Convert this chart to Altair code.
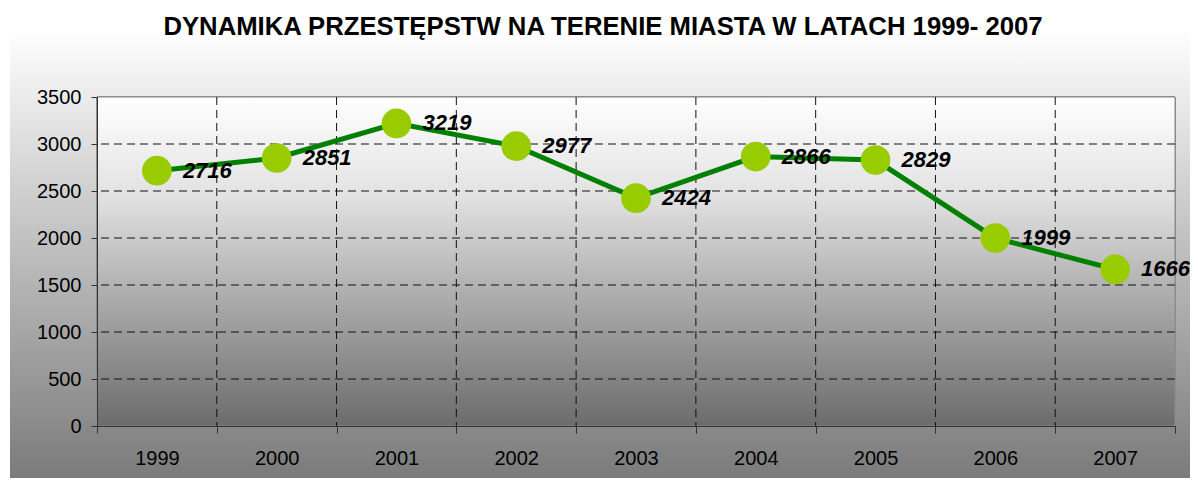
import altair as alt
import pandas as pd

years = ["1999", "2000", "2001", "2002", "2003", "2004", "2005", "2006", "2007"]
values = [2716, 2851, 3219, 2977, 2424, 2866, 2829, 1999, 1666]
y_ticks = [0, 500, 1000, 1500, 2000, 2500, 3000, 3500]
grid_y = [500, 1000, 1500, 2000, 2500, 3000]
grid_x = years[:-1]
title_text = "DYNAMIKA PRZESTĘPSTW NA TERENIE MIASTA W LATACH 1999- 2007"

W, H = 1078, 329
FONT = "Liberation Sans"

df = pd.DataFrame({"year": years, "value": values})
gy = pd.DataFrame({"v": grid_y})
gx = pd.DataFrame({"year": grid_x})
tdf = pd.DataFrame({"t": [title_text]})

xscale = alt.Scale(type="band", domain=years, paddingInner=0, paddingOuter=0)
yscale = alt.Scale(domain=[0, 3500], nice=False)

x_axis = alt.Axis(title=None, grid=False, tickBand="extent", labelFont=FONT, labelFontSize=20,
                  labelColor="#000", domainColor="#333", tickColor="#333", tickSize=7,
                  labelPadding=15, zindex=1, labelAngle=0)
y_axis = alt.Axis(title=None, grid=False, values=y_ticks, format="d", labelFont=FONT,
                  labelFontSize=20, labelColor="#000", domainColor="#333", tickColor="#333",
                  tickSize=6, labelPadding=10, zindex=1)

outer = alt.Chart(df).mark_rect(
    fill=alt.Gradient(gradient="linear", x1=0, y1=0, x2=0, y2=1,
                      stops=[alt.GradientStop(offset=0, color="#ffffff"),
                             alt.GradientStop(offset=0.06, color="#ffffff"),
                             alt.GradientStop(offset=1, color="#777777")])
).encode(x=alt.value(-87), x2=alt.value(1101), y=alt.value(-97), y2=alt.value(394))

inner = alt.Chart(df).mark_rect(
    stroke="#8c8c8c", strokeWidth=1,
    fill=alt.Gradient(gradient="linear", x1=0, y1=0, x2=0, y2=1,
                      stops=[alt.GradientStop(offset=0, color="#ffffff"),
                             alt.GradientStop(offset=0.3, color="#e2e2e2"),
                             alt.GradientStop(offset=0.62, color="#aaaaaa"),
                             alt.GradientStop(offset=1, color="#6c6c6c")])
).encode(x=alt.value(0), x2=alt.value(W), y=alt.value(0), y2=alt.value(H))

title = alt.Chart(tdf).mark_text(align="center", baseline="middle", font=FONT, fontSize=25.7,
                                 fontWeight="bold", color="#000").encode(
    x=alt.value(506), y=alt.value(-70), text="t:N")

hgrid = alt.Chart(gy).mark_rule(color="#111", strokeWidth=1, strokeDash=[8, 5]).encode(
    y=alt.Y("v:Q", scale=yscale, axis=y_axis))

vgrid = alt.Chart(gx).mark_rule(color="#111", strokeWidth=1, strokeDash=[8, 5]).encode(
    x=alt.X("year:N", scale=xscale, axis=x_axis, bandPosition=1))

base = alt.Chart(df).encode(
    x=alt.X("year:N", scale=xscale, axis=x_axis, bandPosition=0.5),
    y=alt.Y("value:Q", scale=yscale, axis=y_axis),
)

line = base.mark_line(color="#008000", strokeWidth=5)
points = base.mark_circle(color="#99cc00", opacity=1, size=880)
labels = base.mark_text(align="left", baseline="middle", dx=26, font=FONT, fontSize=22,
                        fontWeight="bold", fontStyle="italic", color="#000").encode(text="value:Q")

chart = alt.layer(outer, inner, title, hgrid, vgrid, line, points, labels).properties(
    width=W, height=H,
    autosize=alt.AutoSizeParams(type="none"),
    padding={"left": 89, "top": 89, "right": 15, "bottom": 52},
).configure_view(stroke=None).configure(background="#ffffff")

chart.save("out.html", embed_options={"renderer": "svg", "actions": False})
